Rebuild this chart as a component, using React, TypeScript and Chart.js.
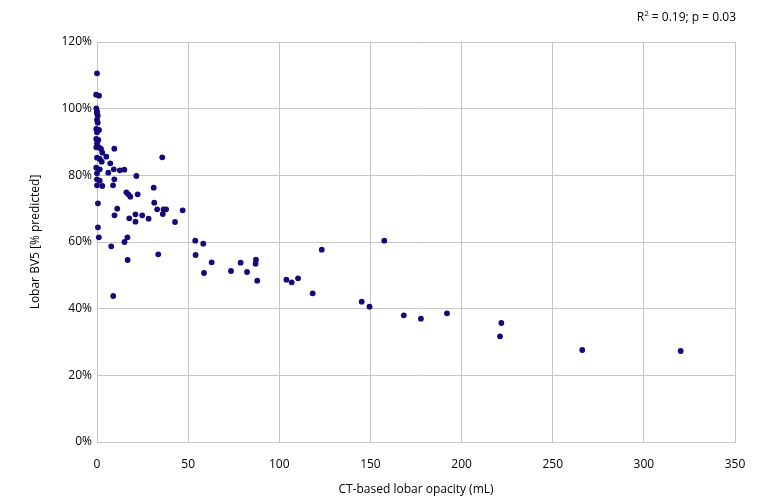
import React, { useEffect, useRef } from "react";
import { Chart, registerables } from "chart.js";

Chart.register(...registerables);

// Data (x: CT-based lobar opacity in mL, y: Lobar BV5 % predicted)
const opacityML: number[] = [
  0, -0.5, 1.1, -0.4, 0, 0, 0.4, 0, 0.4, -0.4,
  1.1, 0, -0.4, 0.7, 0, -0.4, 1.1, 2.2, 9.5, 2.9,
  0, 1.5, 5.1, 2.6, 7.3, 35.8, -0.4, 1.5, 9.2, 12.5,
  15.0, 6.2, 0, 21.6, 0, 1.5, 9.5, 0, 2.9, 8.8,
  31.1, 16.1, 17.2, 18.3, 22.3, 0.5, 31.4, 11.1, 33.0, 36.5,
  37.9, 47.0, 36.1, 9.6, 17.7, 21.1, 24.8, 28.3, 21.1, 42.8,
  0.5, 1.0, 16.7, 15.1, 7.8, 53.9, 58.3, 54.1, 33.6, 16.8,
  62.9, 58.7, 73.5, 78.8, 82.3, 87.2, 87.0, 87.9, 103.9, 106.8,
  110.3, 123.3, 118.3, 145.2, 149.5, 157.6, 168.3, 177.7, 192.0, 221.8,
  221.1, 266.2, 320.2, 8.9,
];

const bv5Pct: number[] = [
  110.6, 104.2, 103.9, 100.1, 99.2, 98.6, 97.9, 96.6, 95.8, 93.9,
  93.6, 92.9, 90.9, 90.6, 89.6, 88.4, 88.4, 87.9, 88.0, 86.8,
  85.3, 84.9, 85.6, 84.1, 83.6, 85.4, 82.3, 81.8, 81.8, 81.5,
  81.7, 80.8, 80.6, 79.8, 78.8, 78.4, 78.8, 77.0, 76.8, 77.0,
  76.3, 74.9, 74.3, 73.6, 74.3, 71.6, 71.8, 70.0, 69.8, 69.8,
  69.8, 69.5, 68.4, 68.0, 67.1, 68.3, 68.0, 67.0, 66.1, 66.0,
  64.4, 61.4, 61.4, 60.0, 58.7, 60.4, 59.5, 56.1, 56.3, 54.6,
  53.9, 50.7, 51.3, 53.8, 51.0, 54.7, 53.5, 48.4, 48.7, 47.9,
  49.1, 57.7, 44.6, 42.1, 40.6, 60.4, 38.0, 37.0, 38.6, 35.7,
  31.7, 27.6, 27.3, 43.8,
];

const xTicks: number[] = [0, 50, 100, 150, 200, 250, 300, 350];
const yTicks: number[] = [0, 20, 40, 60, 80, 100, 120];

const xTitle = "CT-based lobar opacity (mL)";
const yTitle = "Lobar BV5 [% predicted]";
const statText = { r: "R", sup: "2", rest: " = 0.19; p = 0.03" };

const FONT = '"Open Sans", "DejaVu Sans", sans-serif';
const DOT = "#14087a";
const GRID = "#c6c6c6";
const TEXT = "#000000";

const statPlugin = {
  id: "statText",
  afterDraw(chart: any) {
    const ctx = chart.ctx as CanvasRenderingContext2D;
    ctx.save();
    ctx.fillStyle = TEXT;
    ctx.textBaseline = "alphabetic";
    ctx.textAlign = "left";
    const big = `12px ${FONT}`;
    const small = `8px ${FONT}`;
    ctx.font = big;
    const wR = ctx.measureText(statText.r).width;
    const wRest = ctx.measureText(statText.rest).width;
    ctx.font = small;
    const wSup = ctx.measureText(statText.sup).width;
    const right = chart.chartArea.right + 1;
    const base = 21;
    let x = right - (wR + wSup + wRest);
    ctx.font = big;
    ctx.fillText(statText.r, x, base);
    x += wR;
    ctx.font = small;
    ctx.fillText(statText.sup, x, base - 5);
    x += wSup;
    ctx.font = big;
    ctx.fillText(statText.rest, x, base);
    ctx.restore();
  },
};

export default function App() {
  const ref = useRef<HTMLCanvasElement | null>(null);

  useEffect(() => {
    if (!ref.current) return;
    const points = opacityML.map((x, i) => ({ x, y: bv5Pct[i] }));
    const chart = new Chart(ref.current, {
      type: "scatter",
      data: {
        datasets: [
          {
            data: points,
            backgroundColor: DOT,
            borderColor: DOT,
            borderWidth: 0,
            pointRadius: 2.9,
            pointHoverRadius: 2.9,
            clip: false as any,
          },
        ],
      },
      options: {
        responsive: false,
        animation: false,
        devicePixelRatio: 1,
        layout: { padding: { top: 42, right: 27, left: 0, bottom: 0 } },
        plugins: {
          legend: { display: false },
          tooltip: { enabled: false },
        },
        scales: {
          x: {
            type: "linear",
            min: xTicks[0],
            max: xTicks[xTicks.length - 1],
            afterBuildTicks: (s: any) => {
              s.ticks = xTicks.map((v) => ({ value: v }));
            },
            afterFit: (s: any) => {
              s.height = 59;
            },
            grid: { color: GRID, lineWidth: 1, drawTicks: false },
            border: { color: GRID, width: 1 },
            ticks: {
              padding: 15,
              color: TEXT,
              font: { family: FONT, size: 12 },
              maxRotation: 0,
            },
            title: {
              display: true,
              text: xTitle,
              color: TEXT,
              font: { family: FONT, size: 12 },
              padding: { top: 0, bottom: 4 },
            },
          },
          y: {
            type: "linear",
            min: yTicks[0],
            max: yTicks[yTicks.length - 1],
            afterBuildTicks: (s: any) => {
              s.ticks = yTicks.map((v) => ({ value: v }));
            },
            afterFit: (s: any) => {
              s.width = 97;
            },
            grid: { color: GRID, lineWidth: 1, drawTicks: false },
            border: { color: GRID, width: 1 },
            ticks: {
              padding: 5,
              color: TEXT,
              font: { family: FONT, size: 12 },
              callback: (v: any) => `${v}%`,
            },
            title: {
              display: true,
              text: yTitle,
              color: TEXT,
              font: { family: FONT, size: 12 },
              padding: { top: 28, bottom: 0 },
            },
          },
        },
      },
      plugins: [statPlugin],
    });
    return () => chart.destroy();
  }, []);

  return (
    <div style={{ position: "fixed", left: 0, top: 0, width: 762, height: 501, background: "#fff" }}>
      <canvas ref={ref} width={762} height={501} style={{ display: "block", width: 762, height: 501 }} />
    </div>
  );
}
